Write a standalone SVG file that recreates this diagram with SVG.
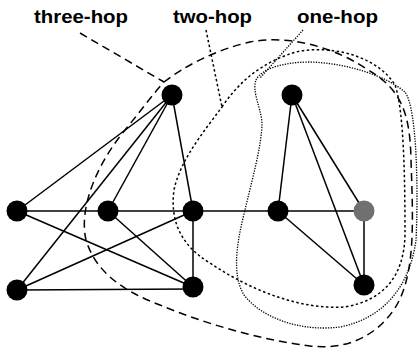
<svg xmlns="http://www.w3.org/2000/svg" width="418" height="352" viewBox="0 0 418 352">
  <style>
    .label { font-family: "Liberation Sans", Arial, Helvetica, sans-serif; font-weight: bold; font-size: 18px; fill: #000; }
    .edge { stroke: #000; stroke-width: 1.5; fill: none; }
    .node { fill: #000; }
    .node.src { fill: #707070; }
    .hop3 { stroke: #000; stroke-width: 1.5; fill: none; stroke-dasharray: 8 5; }
    .hop2 { stroke: #000; stroke-width: 1.5; fill: none; stroke-dasharray: 2.5 2.5; }
    .hop1 { stroke: #000; stroke-width: 1.3; fill: none; stroke-dasharray: 1.3 1.3; }
  </style>

  <!-- hop boundaries with their leaders -->
  <g id="boundaries">
    <path class="hop3" d="M80,33 L164,82"/>
    <path class="hop3" d="M164,82 C185,66 215,50 250,42 C285,35 330,45 365,68 C400,88 410,110 411,160 C413,220 416,275 395,308 C375,338 345,350 310,346 C260,340 200,322 160,305 C120,290 95,270 86,240 C78,205 100,160 125,130 C140,112 152,95 164,82 Z"/>
    <path class="hop2" d="M206,30 L222,107"/>
    <path class="hop2" d="M222,107 C240,80 265,60 300,51 C340,45 380,60 395,85 C404,110 405,180 405,235 C404,275 385,300 345,307 C300,310 250,290 210,263 C180,245 170,220 174,190 C180,160 205,130 222,107 Z"/>
    <path class="hop1" d="M303,30 L260,78"/>
    <path class="hop1" d="M256,80 C262,68 285,62 310,62 C345,63 385,75 405,92 C418,110 418,200 416,240 C410,285 385,318 340,327 C300,332 262,318 244,295 C232,275 236,245 245,210 C252,180 262,145 262,122 C260,105 252,92 256,80 Z"/>
  </g>

  <!-- labels -->
  <g id="labels">
    <text class="label" x="34" y="23" textLength="94" lengthAdjust="spacingAndGlyphs">three-hop</text>
    <text class="label" x="173" y="23" textLength="79" lengthAdjust="spacingAndGlyphs">two-hop</text>
    <text class="label" x="297" y="23" textLength="81" lengthAdjust="spacingAndGlyphs">one-hop</text>
  </g>

  <!-- connectors -->
  <g id="edges">
    <line class="edge" x1="172" y1="95" x2="17" y2="211"/>
    <line class="edge" x1="172" y1="95" x2="17" y2="290"/>
    <line class="edge" x1="172" y1="95" x2="108" y2="211"/>
    <line class="edge" x1="172" y1="95" x2="193" y2="211"/>
    <line class="edge" x1="17" y1="211" x2="364" y2="211"/>
    <line class="edge" x1="17" y1="211" x2="193" y2="287"/>
    <line class="edge" x1="108" y1="211" x2="193" y2="287"/>
    <line class="edge" x1="17" y1="290" x2="193" y2="211"/>
    <line class="edge" x1="17" y1="290" x2="193" y2="289"/>
    <line class="edge" x1="193" y1="211" x2="193" y2="287"/>
    <line class="edge" x1="292" y1="95" x2="278" y2="211"/>
    <line class="edge" x1="292" y1="95" x2="364" y2="285"/>
    <line class="edge" x1="292" y1="95" x2="364" y2="211"/>
    <line class="edge" x1="278" y1="211" x2="364" y2="285"/>
    <line class="edge" x1="364" y1="211" x2="364" y2="285"/>
  </g>

  <!-- nodes -->
  <g id="nA"><circle class="node" cx="172" cy="95" r="10.5"/></g>
  <g id="nB"><circle class="node" cx="292" cy="95" r="10.5"/></g>
  <g id="n1"><circle class="node" cx="17" cy="211" r="10.5"/></g>
  <g id="n2"><circle class="node" cx="108" cy="211" r="10.5"/></g>
  <g id="n3"><circle class="node" cx="193" cy="211" r="10.5"/></g>
  <g id="n4"><circle class="node" cx="278" cy="211" r="10.5"/></g>
  <g id="n5"><circle class="node src" cx="364" cy="211" r="10.5"/></g>
  <g id="n6"><circle class="node" cx="17" cy="290" r="10.5"/></g>
  <g id="n7"><circle class="node" cx="193" cy="287" r="10.5"/></g>
  <g id="n8"><circle class="node" cx="364" cy="285" r="10.5"/></g>
</svg>
